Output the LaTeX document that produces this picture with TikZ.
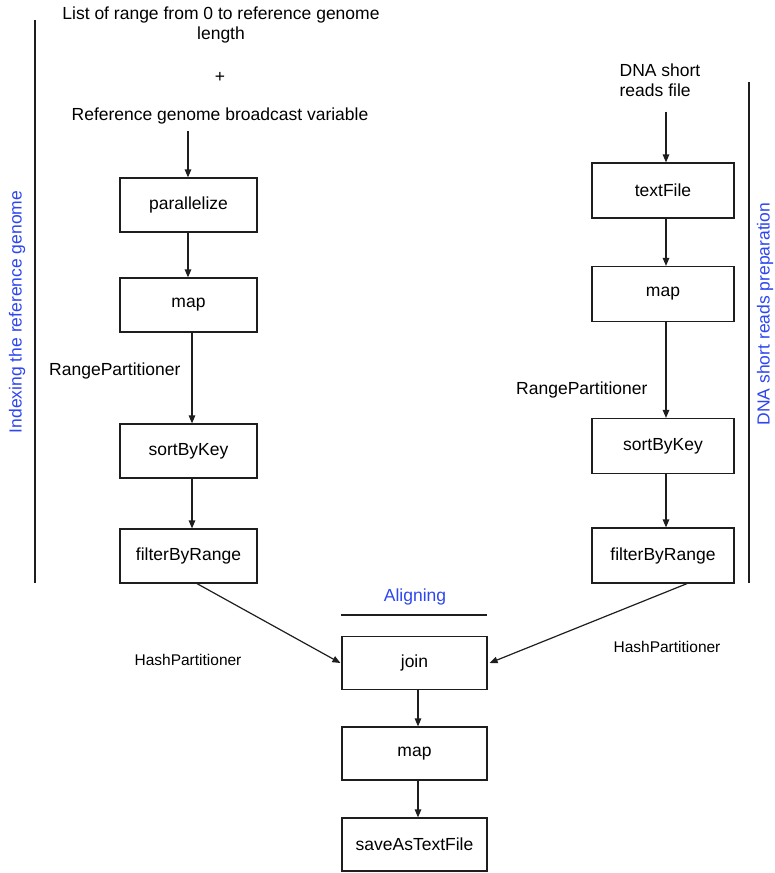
\documentclass[tikz,border=0pt]{standalone}
\usepackage{fontspec}
\setmainfont{Liberation Sans}
\usetikzlibrary{arrows.meta}
\definecolor{ink}{RGB}{30,30,30}
\definecolor{stage}{RGB}{45,70,240}
\begin{document}
\begin{tikzpicture}[x=1pt,y=-1pt,
  font=\fontsize{17.5}{20}\selectfont,
  opbox/.style={draw=ink,line width=1.2pt,rectangle,inner sep=0pt},
  lbox/.style={opbox,minimum width=137pt,minimum height=54pt},
  rbox/.style={opbox,minimum width=142pt,minimum height=55pt},
  cbox/.style={opbox,minimum width=145pt,minimum height=53pt},
  flow/.style={draw=ink,line width=1.2pt,-{Triangle[length=8pt,width=6.5pt]}},
  rule/.style={draw=ink,line width=1.3pt},
  stagelabel/.style={text=stage,rotate=90},
  partlabel/.style={font=\fontsize{15.5}{18}\selectfont},
  plain/.style={inner sep=1pt}]
\useasboundingbox (0,0) rectangle (775,873);

% inputs of the reference-genome branch
\node[plain,align=center] (listtxt) at (221,25) {List of range from 0 to reference genome\\length};
\node[plain] (plus) at (220,77) {+};
\node[plain] (refvar) at (220,116) {Reference genome broadcast variable};

% reference-genome indexing branch
\node[lbox] (par) at (188.5,205) {parallelize};
\node[lbox] (mapA) at (188.5,305) {map};
\node[lbox] (sortA) at (188.5,451) {sortByKey};
\node[lbox] (filtA) at (188.5,556) {filterByRange};
\node[plain,anchor=west] (rpA) at (48,371) {RangePartitioner};

% input of the short-reads branch
\node[plain,align=left] (reads) at (660,80) {DNA short\\reads file};

% short-reads preparation branch
\node[rbox] (tf) at (663,190.5) {textFile};
\node[rbox] (mapB) at (663,294) {map};
\node[rbox] (sortB) at (663,446) {sortByKey};
\node[rbox] (filtB) at (663,555.5) {filterByRange};
\node[plain,anchor=west] (rpB) at (515,390) {RangePartitioner};

% aligning stage
\node[text=stage,plain] (align) at (415,597) {Aligning};
\node[cbox] (join) at (414.5,663) {join};
\node[cbox] (mapC) at (414.5,753.5) {map};
\node[cbox] (save) at (414.5,844.5) {saveAsTextFile};
\node[plain,partlabel] (hpA) at (188,660) {HashPartitioner};
\node[plain,partlabel] (hpB) at (667,647) {HashPartitioner};

% stage labels and separators
\node[stagelabel] (stA) at (17,312) {Indexing the reference genome};
\node[stagelabel] (stB) at (765,314) {DNA short reads preparation};
\draw[rule] (35,20) -- (35,583);
\draw[rule] (749,82) -- (749,583);
\draw[rule] (341,615) -- (487,615);

% connectors
\draw[flow] ([xshift=-0.5pt,yshift=-6pt]par.north |- refvar.south) -- ([xshift=-0.5pt]par.north);
\draw[flow] ([xshift=-0.5pt]par.south) -- ([xshift=-0.5pt]mapA.north);
\draw[flow] ([xshift=3.5pt]mapA.south) -- ([xshift=3.5pt]sortA.north);
\draw[flow] ([xshift=3.5pt]sortA.south) -- ([xshift=3.5pt]filtA.north);

\draw[flow] ([xshift=3pt,yshift=-14pt]tf.north |- reads.south) -- ([xshift=3pt]tf.north);
\draw[flow] ([xshift=3pt]tf.south) -- ([xshift=3pt]mapB.north);
\draw[flow] ([xshift=3pt]mapB.south) -- ([xshift=3pt]sortB.north);
\draw[flow] ([xshift=3pt]sortB.south) -- ([xshift=3pt]filtB.north);

\draw[flow] ([xshift=8.5pt]filtA.south) -- ([xshift=-1pt]join.west);
\draw[flow] ([xshift=24pt]filtB.south) -- ([xshift=2pt]join.east);
\draw[flow] ([xshift=3.5pt]join.south) -- ([xshift=3.5pt]mapC.north);
\draw[flow] ([xshift=3.5pt]mapC.south) -- ([xshift=3.5pt]save.north);
\end{tikzpicture}
\end{document}
